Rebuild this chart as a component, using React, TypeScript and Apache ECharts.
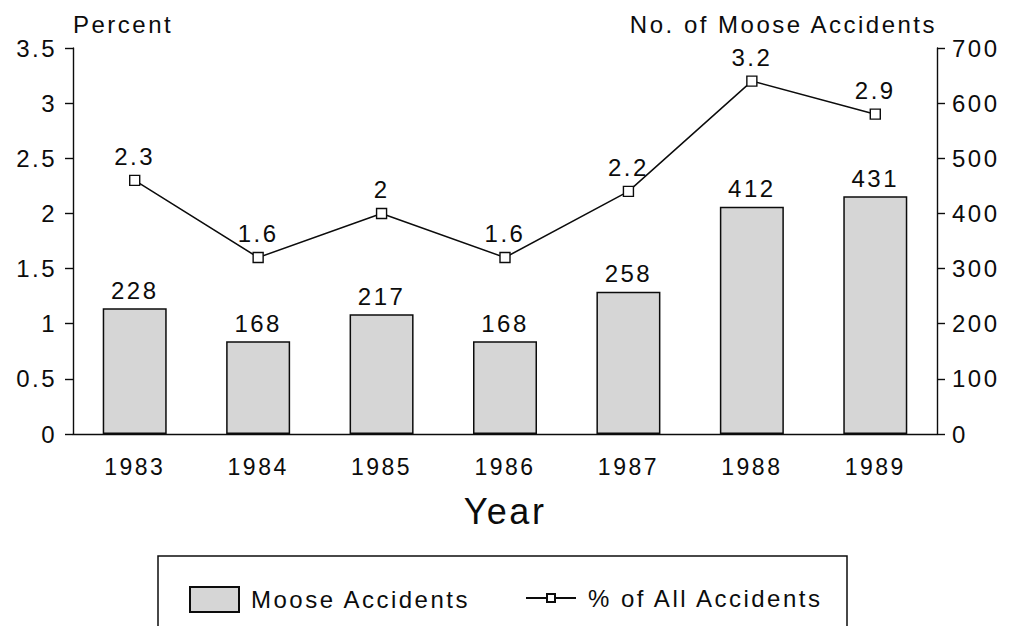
import React, { useEffect, useRef } from "react";
import * as echarts from "echarts";

const years = ["1983", "1984", "1985", "1986", "1987", "1988", "1989"];
const mooseAccidents = [228, 168, 217, 168, 258, 412, 431];
const percentOfAll = [2.3, 1.6, 2, 1.6, 2.2, 3.2, 2.9];

const FONT = "Liberation Sans, Arial, sans-serif";
const INK = "#0c0c0c";

export default function App() {
  const ref = useRef<HTMLDivElement>(null);
  useEffect(() => {
    if (!ref.current) return;
    const chart = echarts.init(ref.current, undefined, { renderer: "svg" });
    chart.setOption({
      animation: false,
      backgroundColor: "#ffffff",
      textStyle: { fontFamily: FONT, color: INK },
      grid: { left: 73, right: 74, top: 48, bottom: 192 },
      legend: [
        {
          left: 184,
          top: 581,
          itemWidth: 49,
          itemHeight: 25,
          textStyle: { fontSize: 24, fontFamily: FONT, color: INK, padding: [0, 0, 0, 7] },
          data: [{ name: "Moose Accidents", icon: "rect" }],
        },
        {
          left: 520,
          top: 581,
          itemWidth: 50,
          itemHeight: 10,
          textStyle: { fontSize: 24, fontFamily: FONT, color: INK, padding: [0, 0, 0, 7] },
          data: [{ name: "% of All Accidents" }],
        },
      ],
      graphic: [
        {
          type: "rect",
          shape: { x: 158, y: 556, width: 689, height: 90 },
          style: { fill: "none", stroke: INK, lineWidth: 1.5 },
          silent: true,
        },
      ],
      xAxis: {
        type: "category",
        data: years,
        boundaryGap: true,
        name: "Year",
        nameLocation: "middle",
        nameGap: 59,
        nameTextStyle: { fontSize: 36, fontFamily: FONT, color: INK },
        axisLine: { lineStyle: { color: INK, width: 1.4 } },
        axisTick: { alignWithLabel: true, length: 8, lineStyle: { color: INK, width: 1.4 } },
        axisLabel: { fontSize: 23, color: INK, margin: 21, fontFamily: FONT },
      },
      yAxis: [
        {
          type: "value",
          min: 0,
          max: 3.5,
          interval: 0.5,
          position: "left",
          name: "Percent",
          nameLocation: "end",
          nameGap: 12,
          nameTextStyle: { fontSize: 24, align: "left", fontFamily: FONT, color: INK },
          axisLine: { show: true, lineStyle: { color: INK, width: 1.4 } },
          axisTick: { show: true, length: 8, lineStyle: { color: INK, width: 1.4 } },
          axisLabel: { fontSize: 24, color: INK, margin: 16, fontFamily: FONT },
          splitLine: { show: false },
        },
        {
          type: "value",
          min: 0,
          max: 700,
          interval: 100,
          position: "right",
          name: "No. of Moose Accidents",
          nameLocation: "end",
          nameGap: 12,
          nameTextStyle: { fontSize: 24, align: "right", fontFamily: FONT, color: INK },
          axisLine: { show: true, lineStyle: { color: INK, width: 1.4 } },
          axisTick: { show: true, length: 8, lineStyle: { color: INK, width: 1.4 } },
          axisLabel: { fontSize: 24, color: INK, margin: 15, fontFamily: FONT },
          splitLine: { show: false },
        },
      ],
      series: [
        {
          name: "Moose Accidents",
          type: "bar",
          yAxisIndex: 1,
          data: mooseAccidents,
          barWidth: 64,
          itemStyle: { color: "#d6d6d6", borderColor: INK, borderWidth: 1.5 },
          label: {
            show: true,
            position: "top",
            distance: 6,
            fontSize: 24,
            color: INK,
            fontFamily: FONT,
          },
        },
        {
          name: "% of All Accidents",
          type: "line",
          yAxisIndex: 0,
          data: percentOfAll,
          symbol: "rect",
          symbolSize: 10,
          lineStyle: { color: INK, width: 1.5 },
          itemStyle: { color: "#ffffff", borderColor: INK, borderWidth: 1.4 },
          label: {
            show: true,
            position: "top",
            distance: 6,
            fontSize: 24,
            color: INK,
            fontFamily: FONT,
          },
          z: 5,
        },
      ],
    });
    return () => chart.dispose();
  }, []);
  return (
    <>
      <style>{`.moose-chart svg text { letter-spacing: 2.5px; }`}</style>
      <div
        ref={ref}
        className="moose-chart"
        style={{ width: 1011, height: 626, position: "absolute", left: 0, top: 0 }}
      />
    </>
  );
}
